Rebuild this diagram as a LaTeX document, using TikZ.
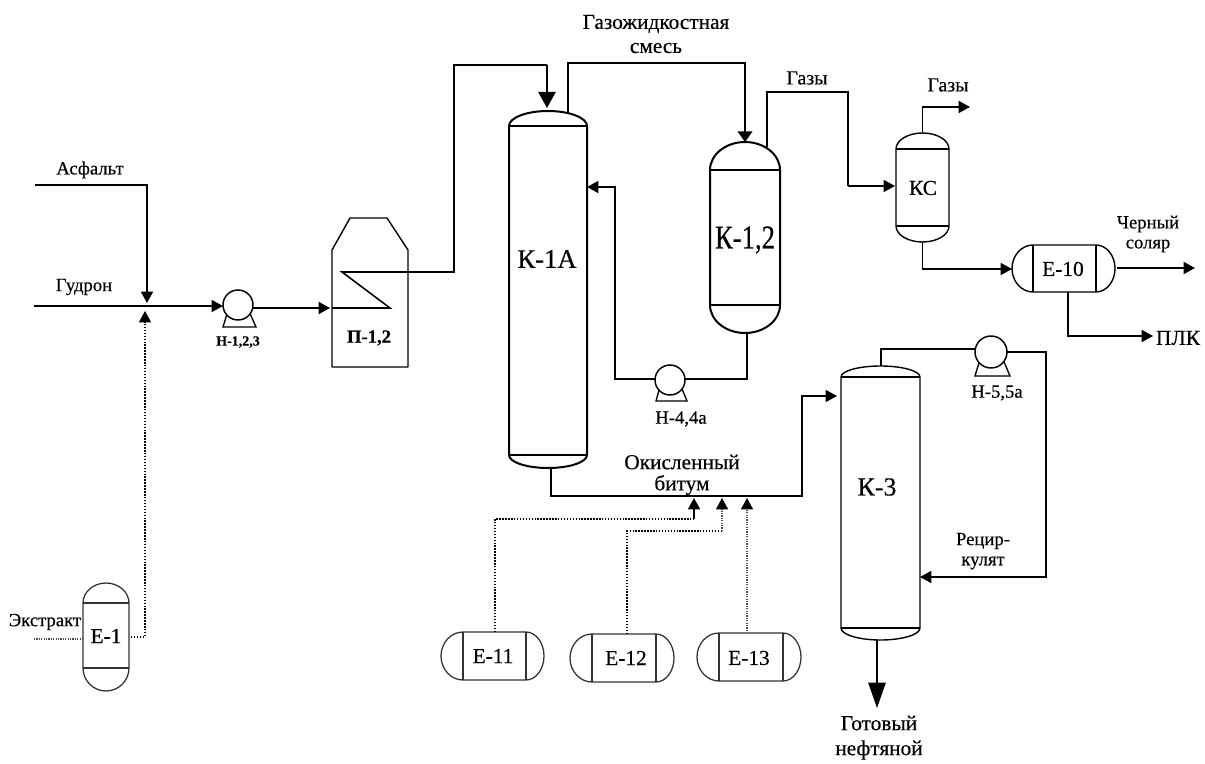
\documentclass[tikz,border=0pt]{standalone}
\usepackage{fontspec}
\usepackage{graphicx}
\setmainfont[FakeBold=0.35]{Liberation Serif}
\usetikzlibrary{arrows.meta}
\tikzset{
  pipe/.style={draw=black,line width=1.15pt,line join=miter},
  tipa/.style={-{Triangle[length=8.5pt,width=9pt]}},
  tipdark/.style={-{Triangle[length=8.5pt,width=9pt,color=black,fill=black]}},
  tipflat/.style={-{Triangle[length=8pt,width=11pt]}},
  tipbig/.style={-{Triangle[length=12pt,width=13pt]}},
  tiplong/.style={-{Triangle[length=19pt,width=13pt]}},
  dotline/.style={draw=black,line width=1.1pt,dash pattern=on 1.1pt off 1.1pt},
  dotthin/.style={draw=black!70,line width=.8pt,dash pattern=on .9pt off .9pt},
  hull/.style={rectangle,draw=none,inner sep=0pt,outer sep=0pt},
  vessel/.style={draw=black,line width=1.5pt,line join=round},
  vesselthin/.style={draw=black,line width=1.05pt,line join=round},
  scanned/.style={draw=black!80,line width=.95pt,line join=round},
  pumpbody/.style={circle,draw=black,fill=white,line width=1.1pt,inner sep=0pt,outer sep=0pt},
  txt/.style={inner sep=0pt,outer sep=0pt,align=center,font=\fontsize{13.5pt}{15pt}\selectfont},
  txtw/.style={txt,font=\fontsize{16pt}{18pt}\selectfont},
  txtg/.style={txt,font=\fontsize{15pt}{17pt}\selectfont},
  txtb/.style={txt,font=\fontsize{10.5pt}{12pt}\selectfont\bfseries},
  txtp/.style={txt,font=\fontsize{14pt}{16pt}\selectfont\bfseries},
  txtn/.style={txt,font=\fontsize{14pt}{16pt}\selectfont},
  txtm/.style={txt,font=\fontsize{16pt}{18pt}\selectfont},
  txtl/.style={txt,font=\fontsize{20pt}{22pt}\selectfont},
}
% vertical vessel: [style]{name}{L}{R}{T}{a}{b}{B}
\newcommand\vvessel[8][vessel]{%
  \node[hull,minimum width={(#4-#3)*0.75pt},minimum height={(#8-#5)*0.75pt}] (#2) at ({(#3+#4)/2},{(#5+#8)/2}) {};
  \draw[#1] (#3,#6) .. controls (#3,{#6-0.55*(#6-#5)}) and ({(#3+#4)/2-0.275*(#4-#3)},#5) .. ({(#3+#4)/2},#5)
     .. controls ({(#3+#4)/2+0.275*(#4-#3)},#5) and (#4,{#6-0.55*(#6-#5)}) .. (#4,#6)
     -- (#4,#7) .. controls (#4,{#7+0.55*(#8-#7)}) and ({(#3+#4)/2+0.275*(#4-#3)},#8) .. ({(#3+#4)/2},#8)
     .. controls ({(#3+#4)/2-0.275*(#4-#3)},#8) and (#3,{#7+0.55*(#8-#7)}) .. (#3,#7) -- cycle;
  \draw[#1] (#3,#6) -- (#4,#6) (#3,#7) -- (#4,#7);
}
% horizontal capsule: [style]{name}{L}{R}{T}{B}{a}{b}
\newcommand\hvessel[8][vessel]{%
  \node[hull,minimum width={(#4-#3)*0.75pt},minimum height={(#6-#5)*0.75pt}] (#2) at ({(#3+#4)/2},{(#5+#6)/2}) {};
  \draw[#1] (#7,#5) .. controls ({#7-0.55*(#7-#3)},#5) and (#3,{(#5+#6)/2-0.275*(#6-#5)}) .. (#3,{(#5+#6)/2})
     .. controls (#3,{(#5+#6)/2+0.275*(#6-#5)}) and ({#7-0.55*(#7-#3)},#6) .. (#7,#6)
     -- (#8,#6) .. controls ({#8+0.55*(#4-#8)},#6) and (#4,{(#5+#6)/2+0.275*(#6-#5)}) .. (#4,{(#5+#6)/2})
     .. controls (#4,{(#5+#6)/2-0.275*(#6-#5)}) and ({#8+0.55*(#4-#8)},#5) .. (#8,#5) -- cycle;
  \draw[#1] (#7,#5) -- (#7,#6) (#8,#5) -- (#8,#6);
}
% pump: {name}{x}{y}{r}{base y}{base left}{base right}
\newcommand\pump[7]{%
  \draw[pipe,line width=1pt] ({#2-0.55*#4},#3) -- (#6,#5) -- (#7,#5) -- ({#2+0.55*#4},#3);
  \node[pumpbody,minimum size={2*#4*0.75pt}] (#1) at (#2,#3) {};
}
\begin{document}
\begin{tikzpicture}[x=0.75pt,y=-0.75pt]
\useasboundingbox (0,0) rectangle (1205,763);
\fill[white] (0,0) rectangle (1205,763);

% equipment
\vvessel{k1a}{509}{587}{111}{126}{455}{468}
\vvessel{k12}{710}{780}{142}{170}{305}{333}
\vvessel[vesselthin]{ks}{896}{949}{133}{149}{226}{242}
\vvessel[vesselthin]{k3}{841}{920}{366}{377}{628}{640}
\hvessel[vesselthin]{e10}{1012}{1115}{245}{292}{1033}{1096}
\vvessel[scanned]{e1}{83}{129}{583}{603}{668}{691}
\hvessel[scanned]{e11}{441}{544}{632}{680}{463}{526}
\hvessel[scanned]{e12}{570}{674}{634}{682}{592}{656}
\hvessel[scanned]{e13}{697}{801}{633}{681}{719}{783}
\pump{h1}{238}{305}{15}{327}{223}{256}
\pump{h4}{670}{380}{15}{401}{656}{687}
\pump{h5}{991}{352}{16}{376}{975}{1010}

% furnace
\node[hull,minimum width=57pt,minimum height=111.75pt] (p12) at (370,292.5) {};
\draw[vesselthin] (p12.south west) -- (332,250) -- (350,218) -- (387,218) -- (408,250) -- (p12.south east) -- cycle;

% named ports
\coordinate (asphin) at (35,185);
\coordinate (asphtip) at (147,303);
\coordinate (gudin) at (34,306);
\coordinate (pin) at (330,308);
\coordinate (coil0) at (332,308);
\coordinate (coil1) at (390,308);
\coordinate (coil2) at (342,272);
\coordinate (coil3) at (454,272);
\coordinate (coil4) at (454,65);
\coordinate (k1ain) at (547,108);
\coordinate (k1aout) at (568,113);
\coordinate (mixtop) at (568,63);
\coordinate (k12in) at (745,142);
\coordinate (k12gas) at (767,147);
\coordinate (gas1) at (767,92);
\coordinate (gas2) at (848,92);
\coordinate (ksin) at (895,186);
\coordinate (ksgastip) at (970,107);
\coordinate (ksout) at (923,269);
\coordinate (e10in) at (1012,269);
\coordinate (e10out) at (1117,268);
\coordinate (soltip) at (1195,268);
\coordinate (plktip) at (1153,336);
\coordinate (e10bot) at (1068,292);
\coordinate (k12bot) at (747,332);
\coordinate (k12pump) at (747,379);
\coordinate (ret1) at (615,379);
\coordinate (rettip) at (587,187);
\coordinate (bit0) at (551,468);
\coordinate (bit1) at (551,496);
\coordinate (bit2) at (802,496);
\coordinate (k3tip) at (837,396);
\coordinate (k3top) at (881,366);
\coordinate (k3p1) at (881,349);
\coordinate (rec1) at (1046,352);
\coordinate (rec2) at (1046,577);
\coordinate (rectip) at (920,577);
\coordinate (prodtip) at (877,708);
\coordinate (prodtop) at (877,640);
\coordinate (e1in) at (34,639);
\coordinate (e1out) at (131,637);
\coordinate (e1tip) at (145,311);
\coordinate (e11out) at (495,632);
\coordinate (e11bend) at (694,519);
\coordinate (e11tip) at (694,498);
\coordinate (e12out) at (627,634);
\coordinate (e12bend) at (722,531);
\coordinate (e12tip) at (722,498);
\coordinate (e13out) at (747,631);
\coordinate (e13tip) at (747,498);

% connectors
\draw[pipe,tipa] (asphin) -| (asphtip);
\draw[pipe,tipa] (gudin) -- (h1.west |- gudin);
\draw[pipe,tipa] (h1.east |- pin) -- (pin);
\draw[pipe] (coil0) -- (coil1) -- (coil2) -- (coil3) -- (coil4) -- (coil4 -| k1ain);
\draw[pipe,tipbig] (coil4 -| k1ain) -- (k1ain);
\draw[pipe,line width=1.5pt,tipflat] (k1aout) -- (mixtop) -| (k12in);
\draw[pipe] (k12gas) -- (gas1) -- (gas2) -- (gas2 |- ksin);
\draw[pipe,tipa] (gas2 |- ksin) -- (ksin);
\draw[pipe,tipa] (ks.north) |- (ksgastip);
\draw[pipe,tipa] (ks.south) |- (e10in);
\draw[pipe,tipa] (e10out) -- (soltip);
\draw[pipe,tipa] (e10bot) |- (plktip);
\draw[pipe] (k12bot) -- (k12pump) -- (h4.east |- k12pump);
\draw[pipe,tipa] (h4.west |- ret1) -- (ret1) |- (rettip);
\draw[pipe,tipa] (bit0) -- (bit1) -- (bit2) |- (k3tip);
\draw[pipe] (k3top) -- (k3p1) -- (h5.west |- k3p1);
\draw[pipe,tipa] (h5.east |- rec1) -- (rec1) -- (rec2) -- (rectip);
\draw[pipe,tiplong] (prodtop) -- (prodtip);
\draw[dotthin] (e1in) -- (e1.west |- e1in);
\draw[dotline,tipdark] (e1out) -| (e1tip);
\draw[dotline] (e11out) |- (e11bend);
\draw[pipe,tipa] (e11bend) -- (e11tip);
\draw[dotline] (e12out) |- (e12bend);
\draw[dotthin,tipdark] (e12bend) -- (e12tip);
\draw[dotthin,tipdark] (e13out) -- (e13tip);

% labels
\node[txtn] (tasph) at (90,170) {Асфальт};
\node[txtn] (tgud) at (84,287) {Гудрон};
\node[txtb] (th1) at (238,342) {Н-1,2,3};
\node[txtp] (tp12) at (369,338) {П-1,2};
\node[txtw] (tmix1) at (656,24) {Газожидкостная};
\node[txtw] (tmix2) at (656,48) {смесь};
\node[txtg] (tgas1) at (807,78) {Газы};
\node[txtg] (tgas2) at (948,85) {Газы};
\node[txtl] (tk1a) at (547,259) {К-1А};
\node[txtl] (tk12) at (745,240) {\scalebox{1}[1.25]{К-1,2}};
\node[txtm] (tks) at (923,188) {КС};
\node[txtm] (te10) at (1063,269) {Е-10};
\node[txtn] (tsol1) at (1148,224) {Черный};
\node[txtn] (tsol2) at (1148,246) {соляр};
\node[txtm] (tplk) at (1178,338) {ПЛК};
\node[txtn] (th4) at (681,419) {Н-4,4а};
\node[txtn] (th5) at (997,393) {Н-5,5а};
\node[txtw] (tbit1) at (682,462) {Окисленный};
\node[txtw] (tbit2) at (682,485) {битум};
\node[txtl,font=\fontsize{19.5pt}{21pt}\selectfont] (tk3) at (877,487) {К-3};
\node[txtn] (trec1) at (983,541) {Рецир-};
\node[txtn] (trec2) at (983,563) {кулят};
\node[txtw] (tprod1) at (879,723) {Готовый};
\node[txtw] (tprod2) at (879,750) {нефтяной};
\node[txtn] (tex) at (45,622) {Экстракт};
\node[txtm] (te1) at (106,636) {Е-1};
\node[txtm] (te11) at (493,656) {Е-11};
\node[txtm] (te12) at (626,658) {Е-12};
\node[txtm] (te13) at (749,658) {Е-13};
\end{tikzpicture}
\end{document}
